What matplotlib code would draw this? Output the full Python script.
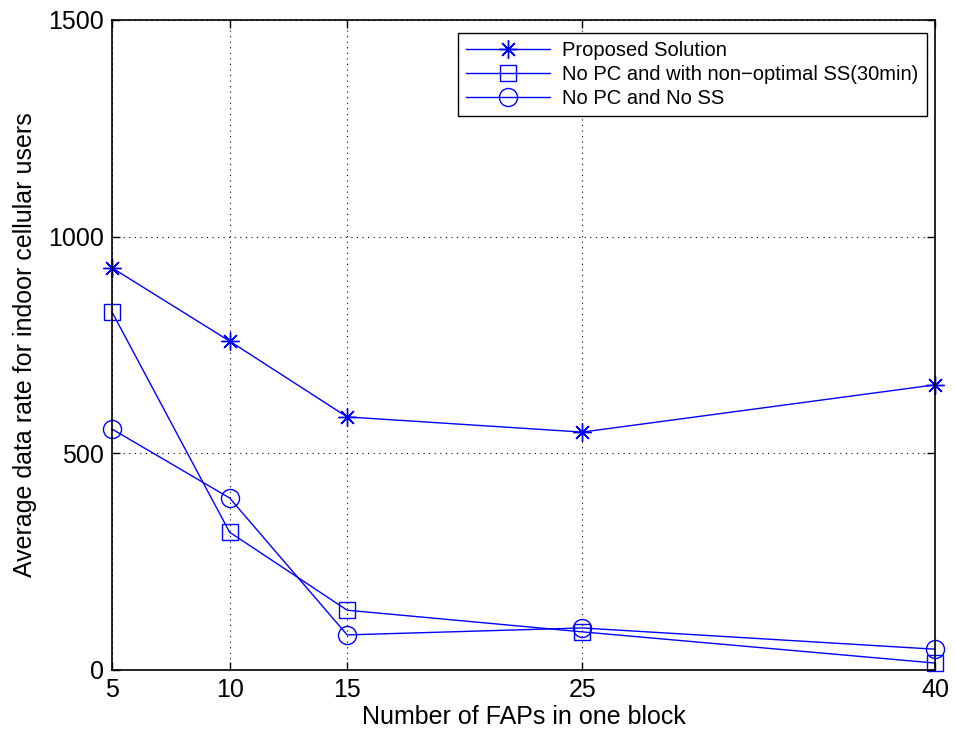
import matplotlib
matplotlib.use("Agg")
import matplotlib.pyplot as plt

plt.rcParams['font.family'] = ['Liberation Sans', 'DejaVu Sans']

# number of FAPs in one block
faps = [5, 10, 15, 25, 40]

# average data rate for each scheme
proposed = [928, 759, 584, 549, 658]
no_pc_ss30 = [826, 318, 138, 88, 16]
no_pc_no_ss = [556, 397, 81, 97, 48]

fig = plt.figure(figsize=(9.55, 7.4), dpi=100)
ax = fig.add_axes([0.1173, 0.0946, 0.8617, 0.8784])

common = dict(color='blue', lw=1.0, markerfacecolor='none',
              markeredgewidth=1.0, clip_on=False, zorder=3)
ax.plot(faps, proposed, marker=(8, 2, 0), markersize=13,
        label='Proposed Solution', **common)
ax.plot(faps, no_pc_ss30, marker='s', markersize=11,
        label='No PC and with non\u2212optimal SS(30min)', **common)
ax.plot(faps, no_pc_no_ss, marker='o', markersize=13,
        label='No PC and No SS', **common)

ax.set_xlim(5, 40)
ax.set_ylim(0, 1500)
ax.set_xticks(faps)
ax.set_yticks([0, 500, 1000, 1500])
ax.tick_params(direction='in', top=True, right=True, labelsize=18,
               length=6, width=1, pad=6)
ax.grid(True, linestyle=(0, (1, 4)), color='black', linewidth=0.8)
for s in ax.spines.values():
    s.set_linewidth(1.2)
    s.set_zorder(4)

ax.set_xlabel('Number of FAPs in one block', fontsize=18, labelpad=2)
ax.set_ylabel('Average data rate for indoor cellular users', fontsize=18, labelpad=8)

leg = ax.legend(loc='upper right', fontsize=14.5, fancybox=False, framealpha=1,
                edgecolor='black', bbox_to_anchor=(0.99, 0.98), borderaxespad=0,
                handlelength=4.2, handletextpad=0.6, labelspacing=0.25,
                borderpad=0.4)
leg.get_frame().set_linewidth(1.0)

fig.savefig('out.png', dpi=100)
